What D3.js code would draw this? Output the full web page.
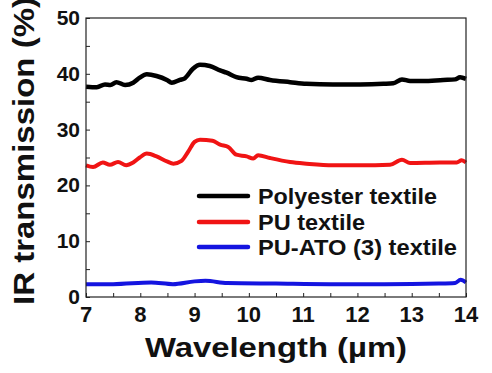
<!DOCTYPE html>
<head>
    <title>IR transmission</title>
    <script src="https://cdn.jsdelivr.net/npm/d3@7/dist/d3.min.js"></script>
    <style>
      body { margin: 0; background: #fff; }
      text { font-family: Arial, "Liberation Sans", sans-serif; font-weight: bold; fill: #111; }
    </style>
</head>
<body>
<div id="container"></div>
<script>

// Données (longueur d'onde en µm, transmission en %)
const wl_polyester = [7.0, 7.2, 7.35, 7.45, 7.56, 7.72, 7.87, 7.99, 8.12, 8.3, 8.49, 8.58, 8.73, 8.82, 8.97, 9.1, 9.28, 9.47, 9.59, 9.77, 9.96, 10.05, 10.17, 10.39, 10.76, 11.06, 11.55, 12.05, 12.48, 12.66, 12.82, 12.97, 13.21, 13.58, 13.8, 13.89, 14.0];
const t_polyester = [37.7, 37.6, 38.1, 38.0, 38.5, 38.0, 38.4, 39.3, 39.9, 39.6, 38.9, 38.4, 38.9, 39.2, 40.9, 41.6, 41.4, 40.6, 40.2, 39.4, 39.1, 38.9, 39.3, 38.9, 38.5, 38.2, 38.1, 38.1, 38.2, 38.3, 39.0, 38.7, 38.7, 38.9, 39.0, 39.4, 39.1];

const wl_pu = [7.0, 7.13, 7.31, 7.44, 7.59, 7.74, 7.87, 7.99, 8.12, 8.3, 8.49, 8.61, 8.76, 8.88, 9.0, 9.1, 9.33, 9.47, 9.62, 9.77, 9.96, 10.08, 10.17, 10.39, 10.76, 11.06, 11.55, 12.05, 12.6, 12.82, 12.97, 13.52, 13.83, 13.92, 14.0];
const t_pu = [23.6, 23.3, 24.1, 23.7, 24.2, 23.6, 24.1, 25.0, 25.7, 25.2, 24.3, 23.9, 24.4, 26.0, 27.8, 28.2, 28.0, 27.3, 26.9, 25.5, 25.2, 24.8, 25.4, 24.9, 24.2, 23.9, 23.6, 23.6, 23.7, 24.6, 24.0, 24.1, 24.1, 24.5, 24.1];

const wl_ato = [7.0, 7.5, 8.2, 8.6, 9.0, 9.2, 9.6, 10.5, 11.5, 12.5, 13.5, 13.8, 13.9, 14.0];
const t_ato = [2.3, 2.3, 2.6, 2.3, 2.8, 2.9, 2.5, 2.4, 2.3, 2.3, 2.4, 2.5, 3.1, 2.6];

const series_names = ["Polyester textile", "PU textile", "PU-ATO (3) textile"];
const x_ticks = [7, 8, 9, 10, 11, 12, 13, 14];
const y_ticks = [0, 10, 20, 30, 40, 50];

const series = [
  { name: series_names[0], wl: wl_polyester, t: t_polyester, color: "#000000", w: 4.5 },
  { name: series_names[1], wl: wl_pu, t: t_pu, color: "#f01414", w: 4 },
  { name: series_names[2], wl: wl_ato, t: t_ato, color: "#1414e0", w: 4 }
];

// Dimensions
const W = 492, H = 373;
const mLeft = 86, mRight = 466, mTop = 18, mBottom = 297;

const svg = d3.select("#container").append("svg")
  .attr("width", W).attr("height", H);

const x = d3.scaleLinear().domain([7, 14]).range([mLeft, mRight]);
const y = d3.scaleLinear().domain([0, 50]).range([mBottom, mTop]);

// Courbes
const line = d3.line()
  .x(d => x(d[0]))
  .y(d => y(d[1]))
  .curve(d3.curveMonotoneX);

svg.selectAll(".serie")
  .data(series)
  .enter().append("path")
  .attr("class", "serie")
  .attr("d", s => line(d3.zip(s.wl, s.t)))
  .style("fill", "none")
  .style("stroke", s => s.color)
  .style("stroke-width", s => s.w)
  .style("stroke-linejoin", "round");

// Axes (ticks vers l'intérieur, mineurs compris)
const minorX = d3.range(7, 14.01, 0.5);
const minorY = d3.range(0, 50.01, 5);

svg.append("g")
  .attr("transform", `translate(0,${mBottom})`)
  .call(d3.axisTop(x).tickValues(minorX).tickSize(4).tickFormat(""))
  .call(g => g.select(".domain").remove())
  .call(g => g.selectAll("line").attr("stroke", "#222").attr("stroke-width", 1));

svg.append("g")
  .attr("transform", `translate(${mLeft},0)`)
  .call(d3.axisRight(y).tickValues(minorY).tickSize(4).tickFormat(""))
  .call(g => g.select(".domain").remove())
  .call(g => g.selectAll("line").attr("stroke", "#222").attr("stroke-width", 1));

// Cadre
svg.append("rect")
  .attr("x", mLeft).attr("y", mTop)
  .attr("width", mRight - mLeft).attr("height", mBottom - mTop)
  .style("fill", "none").style("stroke", "#222").style("stroke-width", 1.2);

// Labels des ticks
svg.selectAll(".xlab")
  .data(x_ticks)
  .enter().append("text")
  .attr("x", d => x(d))
  .attr("y", mBottom + 25)
  .attr("text-anchor", "middle")
  .style("font-size", "22px")
  .text(d => d);

svg.selectAll(".ylab")
  .data(y_ticks)
  .enter().append("text")
  .attr("x", mLeft - 6)
  .attr("y", d => y(d) + 7)
  .attr("text-anchor", "end")
  .style("font-size", "21px")
  .text(d => d);

// Titres des axes
svg.append("text")
  .attr("x", 145).attr("y", 357)
  .attr("textLength", 262).attr("lengthAdjust", "spacingAndGlyphs")
  .style("font-size", "28px")
  .text("Wavelength (µm)");

svg.append("text")
  .attr("transform", "translate(34,305) rotate(-90)")
  .attr("textLength", 308).attr("lengthAdjust", "spacingAndGlyphs")
  .style("font-size", "29px")
  .text("IR transmission (%)");

// Légende
const legY = [196, 222, 247];
const legW = [179, 107, 199];
const leg = svg.selectAll(".leg")
  .data(series)
  .enter().append("g")
  .attr("transform", (d, i) => `translate(0,${legY[i]})`);

leg.append("line")
  .attr("x1", 199).attr("x2", 248)
  .style("stroke", d => d.color)
  .style("stroke-width", 4.5)
  .style("stroke-linecap", "round");

leg.append("text")
  .attr("x", 258).attr("y", 8)
  .attr("textLength", (d, i) => legW[i]).attr("lengthAdjust", "spacingAndGlyphs")
  .style("font-size", "22px")
  .text(d => d.name);

</script>
</body>
